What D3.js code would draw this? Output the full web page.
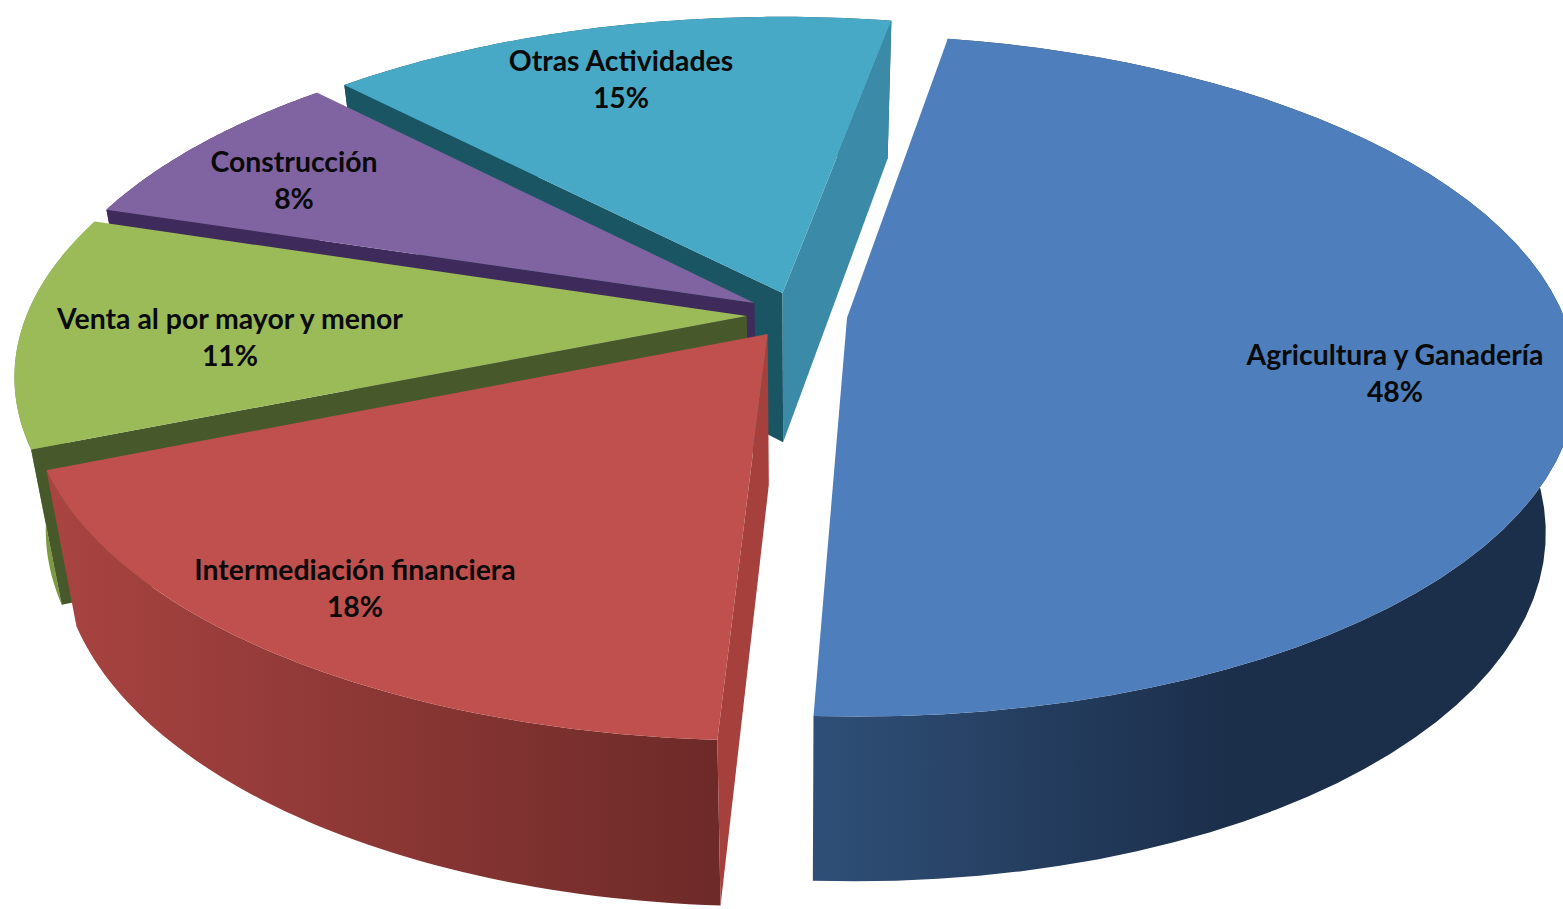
<!DOCTYPE html>
<html>
<head>
<meta charset="utf-8">
<script src="https://cdn.jsdelivr.net/npm/d3@7"></script>
<style>
  html, body { margin: 0; padding: 0; background: #fff; overflow: hidden; }
  text { font-family: Lato, "Open Sans", sans-serif; font-weight: 700; fill: #0a0a0a; }
</style>
</head>
<body>
<script>
const categories = ["Agricultura y Ganadería", "Intermediación financiera", "Venta al por mayor y menor", "Construcción", "Otras Actividades"];
const shares = [48, 18, 11, 8, 15];
const shareLabels = ["48%", "18%", "11%", "8%", "15%"];

const width = 1563, height = 909;

// look of each slice, same order as categories
const topColors = ["#4e7fbc", "#c0504d", "#9bbb59", "#8064a2", "#47a9c5"];
const wallStops = [["#2f4f77", "#1b2e4a"], ["#a94441", "#6d2a28"], ["#7d9a40", "#7d9a40"], ["#3e2a5b", "#3e2a5b"], ["#1a5563", "#1a5563"]];
const startFace = ["#2f4f77", "#a5403d", "#47592a", "#3e2a5b", "#1a5563"];
const endFace = ["#2f4f77", "#a5403d", "#47592a", "#3e2a5b", "#3b8ba8"];
const labelAt = [[1395, 356], [355, 571], [230, 320], [294, 163], [621, 62]];

// perspective of the tilted disc
const cx = 797, cy = 315;
const scaleX = 718, scaleY = 330;
const tiltY = 0.17, tiltX = 0.003, lean = 20, skew = 10;
const wallH = 150, converge = 0.04, explode = 0.07;

function project(X, Y, z) {
    const w = 1 + tiltY * Y - tiltX * X;
    const x = (scaleX * X + lean * Y) / w;
    const y = (skew * X - scaleY * Y) / w;
    return [cx + x * (1 - converge * z), cy + y + z * wallH / Math.sqrt(w)];
}

const svg = d3.select("body").append("svg")
    .attr("width", width)
    .attr("height", height)
    .style("display", "block");

const defs = svg.append("defs");
const line = d3.line();

const pie = d3.pie()
    .sort(null)
    .startAngle(8.5 * Math.PI / 180)
    .endAngle((360 + 8.5) * Math.PI / 180);

const slices = pie(shares).map((d, i) => {
    const mid = (d.startAngle + d.endAngle) / 2;
    const ox = explode * Math.sin(mid), oy = explode * Math.cos(mid);
    const at = (a, r, z) => project(ox + r * Math.sin(a), oy + r * Math.cos(a), z);
    const angles = d3.range(0, 61).map(k => d.startAngle + (d.endAngle - d.startAngle) * k / 60);
    return { i, d, at, angles };
});

// back to front
[4, 3, 2, 1, 0].forEach(i => {
    const s = slices[i];
    const g = svg.append("g").attr("class", "slice");

    const grad = defs.append("linearGradient")
        .attr("id", "wall" + i)
        .attr("gradientUnits", "userSpaceOnUse");
    const rim = s.angles.map(a => s.at(a, 1, 0)[0]);
    grad.attr("x1", d3.min(rim)).attr("x2", d3.max(rim)).attr("y1", 0).attr("y2", 0);
    if (i === 0) grad.attr("x2", d3.min(rim) + 420);
    grad.selectAll("stop").data(wallStops[i]).join("stop")
        .attr("offset", (c, k) => k)
        .attr("stop-color", c => c);

    const wall = s.angles.map(a => s.at(a, 1, 0)).concat(s.angles.slice().reverse().map(a => s.at(a, 1, 1)));
    g.append("path").attr("d", line(wall) + "Z").attr("fill", `url(#wall${i})`);

    // only the cut faces turned towards the viewer
    const face = a => [s.at(a, 0, 0), s.at(a, 1, 0), s.at(a, 1, 1), s.at(a, 0, 1)];
    if (s.d.startAngle > Math.PI) {
        g.append("path").attr("d", line(face(s.d.startAngle)) + "Z").attr("fill", startFace[i]);
    }
    if (Math.sin(s.d.endAngle) > 0) {
        g.append("path").attr("d", line(face(s.d.endAngle)) + "Z").attr("fill", endFace[i]);
    }

    const top = [s.at(0, 0, 0)].concat(s.angles.map(a => s.at(a, 1, 0)));
    g.append("path").attr("d", line(top) + "Z").attr("fill", topColors[i]);
});

const labels = svg.append("g").attr("class", "labels")
    .attr("text-anchor", "middle")
    .attr("font-size", 28.4);

categories.forEach((c, i) => {
    const [lx, ly] = labelAt[i];
    labels.append("text").attr("x", lx).attr("y", ly + 9).text(c);
    labels.append("text").attr("x", lx).attr("y", ly + 46).text(shareLabels[i]);
});
</script>
</body>
</html>
